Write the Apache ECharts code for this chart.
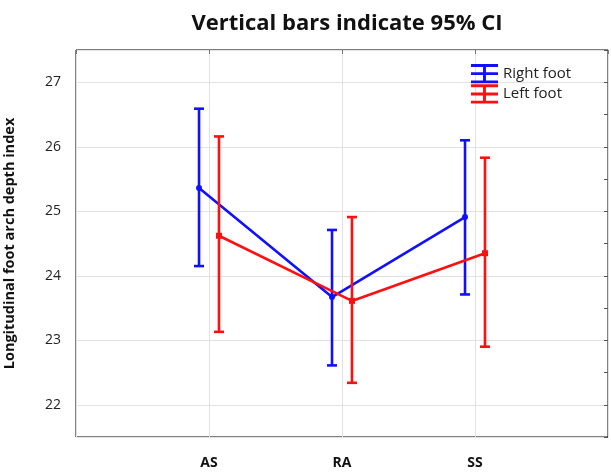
<!DOCTYPE html>
<html>
<head>
<meta charset="utf-8">
<script src="https://cdn.jsdelivr.net/npm/echarts@6/dist/echarts.min.js"></script>
<style>
html, body { margin: 0; padding: 0; background: #fff; }
#chart { width: 611px; height: 472px; }
</style>
</head>
<body>
<div id="chart"></div>
<script>
const groups = ['AS', 'RA', 'SS'];
const rightMean = [25.36, 23.67, 24.91];
const rightLow = [24.15, 22.61, 23.71];
const rightHigh = [26.59, 24.71, 26.10];
const leftMean = [24.62, 23.61, 24.35];
const leftLow = [23.13, 22.34, 22.90];
const leftHigh = [26.16, 24.91, 25.83];

const BLUE = '#1010ff';
const RED = '#ff1010';
const SHIFT = 0.075; // side offset of the two feet around each group
const legendIcon = 'path://M0,0H28V3H0Z M12.5,0H15.5V20H12.5Z M0,8.5H28V11.5H0Z M0,17H28V20H0Z';

const chart = echarts.init(document.getElementById('chart'));

function pts(mean, off) {
  return mean.map((v, i) => [i + 1 + off, v]);
}
function bars(low, high, off) {
  return low.map((v, i) => [i + 1 + off, v, high[i]]);
}
function errorBar(color) {
  return function (params, api) {
    const top = api.coord([api.value(0), api.value(2)]);
    const bot = api.coord([api.value(0), api.value(1)]);
    const w = 5;
    const style = { stroke: color, lineWidth: 2.6 };
    return {
      type: 'group',
      children: [
        { type: 'line', shape: { x1: top[0], y1: top[1], x2: bot[0], y2: bot[1] }, style },
        { type: 'line', shape: { x1: top[0] - w, y1: top[1], x2: top[0] + w, y2: top[1] }, style },
        { type: 'line', shape: { x1: bot[0] - w, y1: bot[1], x2: bot[0] + w, y2: bot[1] }, style }
      ]
    };
  };
}

chart.setOption({
  animation: false,
  title: {
    text: 'Vertical bars indicate 95% CI',
    left: 342,
    textAlign: 'center',
    top: 8,
    textStyle: { fontFamily: 'Open Sans', fontWeight: 'bold', fontSize: 22, color: '#111' }
  },
  legend: {
    left: 466,
    top: 59,
    orient: 'vertical',
    itemGap: 1,
    itemWidth: 27,
    itemHeight: 20,
    data: [
      { name: 'Right foot', icon: legendIcon },
      { name: 'Left foot', icon: legendIcon }
    ],
    textStyle: { fontFamily: 'Open Sans', fontSize: 15, color: '#222' }
  },
  grid: {
    left: 76, right: 3, top: 50, bottom: 35,
    outerBoundsMode: 'none',
    show: true, borderColor: '#000', borderWidth: 1
  },
  xAxis: [
    {
      type: 'value', min: 0, max: 4, interval: 1,
      axisLine: { show: false, onZero: false },
      axisTick: { show: false },
      splitLine: { show: true, lineStyle: { color: '#e2e2e2' } },
      axisLabel: {
        margin: 19,
        fontFamily: 'Open Sans', fontWeight: 'bold', fontSize: 14, color: '#111',
        formatter: v => groups[v - 1] || ''
      }
    },
    {
      type: 'value', min: 0, max: 4, interval: 1, position: 'top',
      axisLine: { show: false, onZero: false },
      axisTick: { show: true, inside: true, length: 4, lineStyle: { color: '#777' } },
      splitLine: { show: false },
      axisLabel: { show: false }
    }
  ],
  yAxis: [
    {
      type: 'value', min: 21.5, max: 27.5, splitNumber: 6,
      name: 'Longitudinal foot arch depth index',
      nameLocation: 'middle',
      nameGap: 59,
      nameTextStyle: { fontFamily: 'Open Sans', fontWeight: 'bold', fontSize: 14.5, color: '#111' },
      axisLine: { show: false, onZero: false },
      axisTick: { show: false },
      splitLine: { show: true, lineStyle: { color: '#e2e2e2' } },
      axisLabel: {
        margin: 15, fontFamily: 'Open Sans', fontSize: 14, color: '#222',
        showMinLabel: false, showMaxLabel: false
      }
    },
    {
      type: 'value', min: 21.5, max: 27.5, interval: 0.5, position: 'right',
      axisLine: { show: false, onZero: false },
      axisTick: { show: true, inside: true, length: 4, lineStyle: { color: '#555' } },
      splitLine: { show: false },
      axisLabel: { show: false }
    }
  ],
  series: [
    {
      name: 'Right foot', type: 'custom', renderItem: errorBar(BLUE),
      itemStyle: { color: BLUE },
      data: bars(rightLow, rightHigh, -SHIFT), z: 2
    },
    {
      name: 'Right foot', type: 'line', data: pts(rightMean, -SHIFT),
      symbol: 'circle', symbolSize: 6,
      itemStyle: { color: BLUE }, lineStyle: { color: BLUE, width: 2.6 }, z: 3
    },
    {
      name: 'Left foot', type: 'custom', renderItem: errorBar(RED),
      itemStyle: { color: RED },
      data: bars(leftLow, leftHigh, SHIFT), z: 4
    },
    {
      name: 'Left foot', type: 'line', data: pts(leftMean, SHIFT),
      symbol: 'rect', symbolSize: 6,
      itemStyle: { color: RED }, lineStyle: { color: RED, width: 2.6 }, z: 5
    }
  ]
});
</script>
</body>
</html>
